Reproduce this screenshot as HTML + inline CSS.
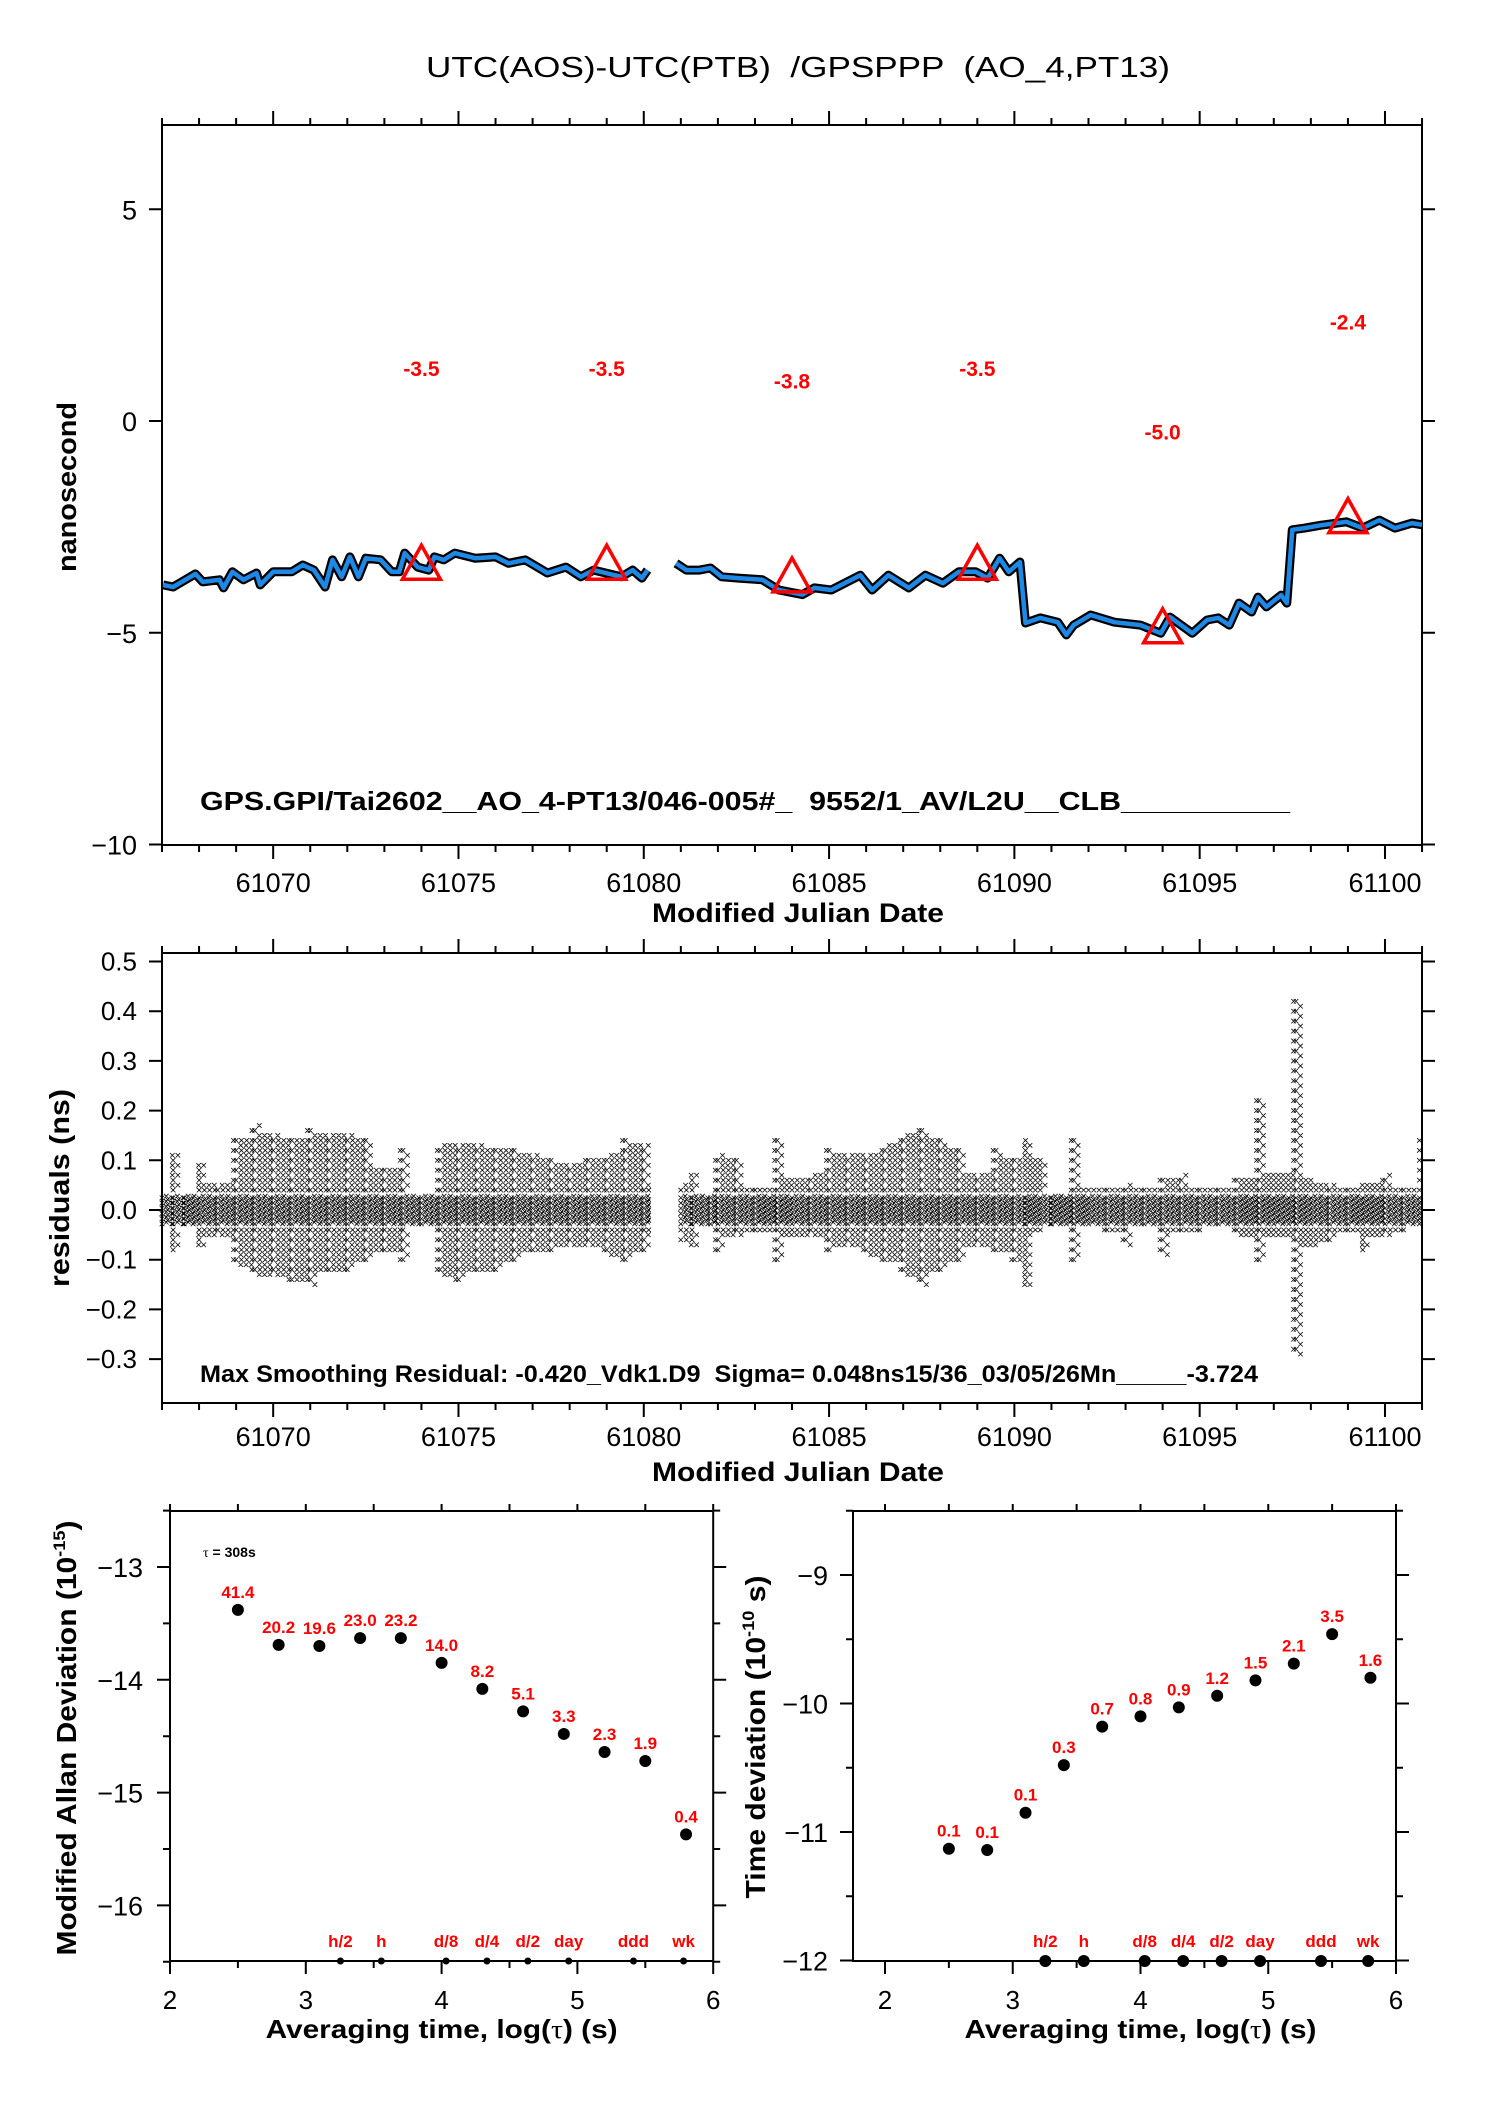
<!DOCTYPE html>
<html><head><meta charset="utf-8"><title>UTC(AOS)-UTC(PTB) GPSPPP</title>
<style>
html,body{margin:0;padding:0;background:#fff;}
svg{display:block;font-family:"Liberation Sans",Arial,sans-serif;}
svg text{white-space:pre;}
</style></head>
<body>
<svg id="chart" xmlns="http://www.w3.org/2000/svg" width="1488" height="2105" viewBox="0 0 1488 2105">
<rect x="0" y="0" width="1488" height="2105" fill="#fff"/>
<text x="798" y="77" font-size="29" text-anchor="middle" textLength="744" lengthAdjust="spacingAndGlyphs">UTC(AOS)-UTC(PTB)  /GPSPPP  (AO_4,PT13)</text>
<g id="topPanel"></g>
<g id="midPanel"></g>
<g id="blPanel"></g>
<g id="brPanel"></g>
</svg>
<script>
// ---------- data: top time series ----------
const seg1Mjd = [61067.03,61067.3,61067.9,61068.1,61068.55,61068.66,61068.9,61069.2,61069.55,61069.65,61070,61070.5,61070.8,61071.1,61071.4,61071.6,61071.85,61072.07,61072.3,61072.5,61072.9,61073.2,61073.4,61073.55,61073.9,61074.2,61074.35,61074.6,61074.9,61075.45,61076.0,61076.35,61076.8,61077.4,61077.9,61078.3,61078.65,61078.97,61079.4,61079.7,61079.95,61080.1];
const seg1Val = [-3.87,-3.92,-3.61,-3.80,-3.75,-3.94,-3.56,-3.75,-3.59,-3.87,-3.56,-3.56,-3.40,-3.52,-3.92,-3.28,-3.68,-3.21,-3.68,-3.24,-3.28,-3.56,-3.56,-3.12,-3.45,-3.52,-3.21,-3.28,-3.12,-3.24,-3.21,-3.36,-3.28,-3.59,-3.45,-3.68,-3.52,-3.59,-3.68,-3.52,-3.71,-3.52];
const seg2Mjd = [61080.87,61081.15,61081.5,61081.8,61082.1,61082.55,61083.2,61083.65,61084.28,61084.6,61085.06,61085.84,61086.16,61086.6,61087.15,61087.6,61088.07,61088.5,61088.95,61089.28,61089.6,61089.85,61090.15,61090.3,61090.7,61091.17,61091.4,61091.6,61092.06,61092.7,61093.4,61093.95,61094.2,61094.8,61095.2,61095.5,61095.8,61096.06,61096.4,61096.57,61096.8,61097.2,61097.35,61097.5,61097.83,61098.28,61098.96,61099.4,61099.85,61100.27,61100.73,61101.0];
const seg2Val = [-3.36,-3.52,-3.52,-3.47,-3.68,-3.71,-3.75,-3.99,-4.10,-3.94,-3.99,-3.64,-3.99,-3.64,-3.94,-3.64,-3.83,-3.56,-3.56,-3.71,-3.24,-3.56,-3.33,-4.77,-4.65,-4.75,-5.05,-4.82,-4.58,-4.75,-4.82,-5.01,-4.63,-5.01,-4.70,-4.65,-4.82,-4.30,-4.51,-4.16,-4.39,-4.11,-4.30,-2.57,-2.53,-2.46,-2.38,-2.53,-2.34,-2.53,-2.41,-2.45];
const triMjd = [61074,61079,61084,61089,61094,61099];
const triVal = [-3.5,-3.5,-3.8,-3.5,-5.0,-2.4];
const triLabel = ["-3.5","-3.5","-3.8","-3.5","-5.0","-2.4"];
const topYTicks = [5,0,-5,-10];
const topYTickLabels = ["5","0","\u22125","\u221210"];
const mjdTicks = [61070,61075,61080,61085,61090,61095,61100];
const mjdTickLabels = ["61070","61075","61080","61085","61090","61095","61100"];
// ---------- data: residual envelopes ----------
const resMjd = [61067.0,61067.3,61067.6,61068.0,61068.5,61069.0,61069.5,61070.0,61070.5,61071.0,61071.5,61072.0,61072.5,61073.0,61073.5,61074.0,61074.5,61075.0,61075.5,61076.0,61076.5,61077.0,61077.5,61078.0,61078.5,61079.0,61079.5,61080.0,61080.2,
 61081.0,61081.3,61081.8,61082.0,61082.5,61083.0,61083.6,61084.0,61084.5,61085.0,61085.5,61086.0,61086.5,61087.0,61087.5,61088.0,61088.5,61089.0,61089.5,61090.0,61090.3,61090.7,61091.0,61091.6,61092.0,61092.5,61093.0,61093.5,61094.0,61094.5,61095.0,61095.5,61096.0,61096.6,61097.0,61097.6,61098.0,61098.5,61099.0,61099.4,61100.0,61100.5,61101.0];
const resHi = [0.03,0.11,0.03,0.09,0.05,0.14,0.17,0.15,0.14,0.16,0.15,0.15,0.14,0.08,0.12,0.03,0.13,0.13,0.13,0.12,0.12,0.11,0.10,0.09,0.10,0.11,0.14,0.13,0.05,
 0.05,0.07,0.03,0.11,0.10,0.04,0.14,0.06,0.07,0.12,0.11,0.11,0.13,0.15,0.16,0.14,0.12,0.07,0.12,0.10,0.14,0.10,0.03,0.14,0.04,0.04,0.05,0.04,0.06,0.07,0.04,0.04,0.06,0.22,0.07,0.42,0.06,0.05,0.04,0.05,0.07,0.04,0.15];
const resLo = [-0.03,-0.08,-0.03,-0.07,-0.05,-0.11,-0.13,-0.13,-0.14,-0.15,-0.12,-0.12,-0.10,-0.08,-0.10,-0.03,-0.13,-0.14,-0.12,-0.12,-0.10,-0.08,-0.08,-0.07,-0.07,-0.09,-0.10,-0.08,-0.05,
 -0.06,-0.07,-0.03,-0.08,-0.05,-0.04,-0.10,-0.05,-0.05,-0.08,-0.07,-0.09,-0.10,-0.13,-0.15,-0.12,-0.10,-0.07,-0.08,-0.10,-0.15,-0.04,-0.03,-0.10,-0.03,-0.04,-0.07,-0.03,-0.09,-0.04,-0.04,-0.03,-0.05,-0.10,-0.05,-0.29,-0.07,-0.06,-0.04,-0.08,-0.05,-0.04,-0.03];
const resYTicks = [0.5,0.4,0.3,0.2,0.1,0.0,-0.1,-0.2,-0.3];
const resYTickLabels = ["0.5","0.4","0.3","0.2","0.1","0.0","\u22120.1","\u22120.2","\u22120.3"];
// ---------- data: stability ----------
const logTau = [2.5,2.8,3.1,3.4,3.7,4.0,4.3,4.6,4.9,5.2,5.5,5.8];
const madVal = [-13.38,-13.69,-13.70,-13.63,-13.63,-13.85,-14.08,-14.28,-14.48,-14.64,-14.72,-15.37];
const madLabel = ["41.4","20.2","19.6","23.0","23.2","14.0","8.2","5.1","3.3","2.3","1.9","0.4"];
const tdevVal = [-11.13,-11.14,-10.85,-10.48,-10.18,-10.10,-10.03,-9.94,-9.82,-9.69,-9.46,-9.80];
const tdevLabel = ["0.1","0.1","0.1","0.3","0.7","0.8","0.9","1.2","1.5","2.1","3.5","1.6"];
const markTau = [3.255,3.556,4.033,4.334,4.635,4.936,5.413,5.782];
const markLabel = ["h/2","h","d/8","d/4","d/2","day","ddd","wk"];
const madYTicks = [-13,-14,-15,-16];
const madYTickLabels = ["\u221213","\u221214","\u221215","\u221216"];
const tdevYTicks = [-9,-10,-11,-12];
const tdevYTickLabels = ["\u22129","\u221210","\u221211","\u221212"];
const logTicks = [2,3,4,5,6];
const logTickLabels = ["2","3","4","5","6"];

const NS="http://www.w3.org/2000/svg";
function mk(parent,tag,attrs,txt){const e=document.createElementNS(NS,tag);for(const k in attrs)e.setAttribute(k,attrs[k]);if(txt!==undefined)e.textContent=txt;parent.appendChild(e);return e;}

// ---------- scales ----------
const xM = m => 162 + (m-61067)*37.06;
const yTop = v => 421 - v*42.35;
const yRes = v => 1210 - v*497;
const xL = l => 170 + (l-2)*135.8;
const yL = v => 1567 + (-13 - v)*112.8;
const xR = l => 885 + (l-2)*127.75;
const yR = v => 1575 + (-9 - v)*128.5;

// ================= TOP PANEL =================
const topG=document.getElementById('topPanel');
(function(){
  const L=162,R=1422,T=125,B=845;
  let p=[];
  for(let m=61067;m<=61101;m++){const x=xM(m),maj=(m%5===0);const len=maj?14:7;p.push(`M${x} ${T}v${-len}M${x} ${B}v${len}`);}
  for(const v of topYTicks){const y=yTop(v);p.push(`M${L} ${y}h-13M${R} ${y}h13`);}
  const ax=mk(topG,'path',{d:p.join(''),stroke:'#000','stroke-width':2,fill:'none'});
  
  
  const fr=mk(topG,'rect',{x:L,y:T,width:R-L,height:B-T,fill:'none',stroke:'#000','stroke-width':2});
  
  
  topYTicks.forEach((v,i)=>{const t=mk(topG,'text',{x:137,y:yTop(v)+10,'font-size':27,'text-anchor':'end'},topYTickLabels[i]);
    
    });
  mjdTicks.forEach((m,i)=>{const t=mk(topG,'text',{x:xM(m),y:892,'font-size':27,'text-anchor':'middle'},mjdTickLabels[i]);
    
    });
  const xt=mk(topG,'text',{x:798,y:922,'font-size':27,'font-weight':'bold','text-anchor':'middle',textLength:292,lengthAdjust:'spacingAndGlyphs'},'Modified Julian Date');
  
  
  const yt=mk(topG,'text',{x:0,y:0,'font-size':27,'font-weight':'bold','text-anchor':'middle',transform:'translate(76,487) rotate(-90)',textLength:170,lengthAdjust:'spacingAndGlyphs'},'nanosecond');
  
  
  function pathOf(ms,vs){return ms.map((m,i)=>(i?'L':'M')+xM(m).toFixed(1)+' '+yTop(vs[i]).toFixed(1)).join('');}
  for(const pair of [[seg1Mjd,seg1Val],[seg2Mjd,seg2Val]]){
    const bk=mk(topG,'path',{d:pathOf(pair[0],pair[1]),stroke:'#000','stroke-width':9,fill:'none','stroke-linejoin':'round'});
    
    
  }
  for(const pair of [[seg1Mjd,seg1Val],[seg2Mjd,seg2Val]]){
    const bl=mk(topG,'path',{d:pathOf(pair[0],pair[1]),stroke:'#1e88e5','stroke-width':4.5,fill:'none','stroke-linejoin':'round'});
    
    
  }
  triMjd.forEach((m,i)=>{const x=xM(m),y=yTop(triVal[i]);
    const tr=mk(topG,'path',{d:`M${x-19} ${y+10}L${x+19} ${y+10}L${x} ${y-24}Z`,fill:'none',stroke:'#f00','stroke-width':3.5});
    
    
    const t=mk(topG,'text',{x:x,y:yTop(triVal[i]+4.73)+7,'font-size':21,'font-weight':'bold',fill:'#f00','text-anchor':'middle'},triLabel[i]);
    
    
  });
  const g=mk(topG,'text',{x:200,y:810,'font-size':26,'font-weight':'bold',textLength:1090,lengthAdjust:'spacingAndGlyphs'},'GPS.GPI/Tai2602__AO_4-PT13/046-005#_  9552/1_AV/L2U__CLB__________');
  
  
})();

// ================= MIDDLE PANEL =================
const midG=document.getElementById('midPanel');
(function(){
  const L=162,R=1422,T=953,B=1403;
  let p=[];
  for(let m=61067;m<=61101;m++){const x=xM(m),maj=(m%5===0);const len=maj?14:7;p.push(`M${x} ${T}v${-len}M${x} ${B}v${len}`);}
  for(const v of resYTicks){const y=yRes(v);p.push(`M${L} ${y}h-13M${R} ${y}h13`);}
  const ax=mk(midG,'path',{d:p.join(''),stroke:'#000','stroke-width':2,fill:'none'});
  
  
  let c=[];
  const cross=(x,y)=>c.push(`M${(x-2.3).toFixed(1)} ${(y-2.3).toFixed(1)}l4.6 4.6m0 -4.6l-4.6 4.6`);
  const core=[];
  for(let i=0;i<resMjd.length-1;i++){
    const m0=resMjd[i],m1=resMjd[i+1];
    if(m1-m0>0.6) continue;
    const n=Math.max(1,Math.round((m1-m0)/0.07));
    for(let k=0;k<n;k++){
      const f=k/n,m=m0+(m1-m0)*f;
      let hi,lo;
      const d0=m-m0,d1=m1-m;
      if(d0<=0.1){hi=resHi[i];lo=resLo[i];}
      else if(d1<=0.1){hi=resHi[i+1];lo=resLo[i+1];}
      else {hi=Math.min(resHi[i],resHi[i+1]);lo=Math.max(resLo[i],resLo[i+1]);}
      const x=xM(m);
      const ph=(k%3)*0.0035;
      for(let v=-0.028+ph;v<=0.03;v+=0.0105) cross(x+(k%2)*1.5,yRes(v));
      const step=0.02, off=(k%2)?step/2:0;
      for(let v=0.04+off;v<=hi+0.001;v+=step) cross(x+(k%2)*2,yRes(v));
      for(let v=-0.04-off;v>=lo-0.001;v-=step) cross(x+(k%2)*2,yRes(v));
    }
  }
  const cp=mk(midG,'path',{d:c.join(''),stroke:'#000','stroke-width':0.8,fill:'none'});
  
  
  const fr=mk(midG,'rect',{x:L,y:T,width:R-L,height:B-T,fill:'none',stroke:'#000','stroke-width':2});
  
  
  resYTicks.forEach((v,i)=>{const t=mk(midG,'text',{x:137,y:yRes(v)+9,'font-size':26,'text-anchor':'end'},resYTickLabels[i]);
    
    });
  mjdTicks.forEach((m,i)=>{const t=mk(midG,'text',{x:xM(m),y:1446,'font-size':27,'text-anchor':'middle'},mjdTickLabels[i]);
    
    });
  const xt=mk(midG,'text',{x:798,y:1481,'font-size':27,'font-weight':'bold','text-anchor':'middle',textLength:292,lengthAdjust:'spacingAndGlyphs'},'Modified Julian Date');
  
  
  const yt=mk(midG,'text',{x:0,y:0,'font-size':28,'font-weight':'bold','text-anchor':'middle',transform:'translate(69,1188) rotate(-90)',textLength:198,lengthAdjust:'spacingAndGlyphs'},'residuals (ns)');
  
  
  const s=mk(midG,'text',{x:200,y:1391-9,'font-size':24,'font-weight':'bold',textLength:1058,lengthAdjust:'spacingAndGlyphs'},'Max Smoothing Residual: -0.420_Vdk1.D9  Sigma= 0.048ns15/36_03/05/26Mn_____-3.724');
  
  
})();

// ================= BOTTOM PANELS =================
function stabPanel(g,xs,ys,L,R,T,B,yTicksArr,yTickLbl,vals,lbls,yMin,yMax,lblEnd,ttl,ttlX,ttlY,ttlLen,sup,suffix,dotR,markR,pfx){
  let p=[];
  for(let l=2;l<=6.001;l+=0.5){const x=xs(l);if(x<L-1)continue;p.push(`M${x} ${T}v-7M${x} ${B}v${(Math.abs(l-Math.round(l))<0.01)?13:7}`);}
  for(let v=yMax;v>=yMin-0.001;v-=0.5){const y=ys(v);const maj=Math.abs(v-Math.round(v))<0.01;p.push(`M${L} ${y}h${maj?-13:-7}M${R} ${y}h${maj?13:7}`);}
  const ax=mk(g,'path',{d:p.join(''),stroke:'#000','stroke-width':2,fill:'none'});
  
  
  const fr=mk(g,'rect',{x:L,y:T,width:R-L,height:B-T,fill:'none',stroke:'#000','stroke-width':2});
  
  
  yTicksArr.forEach((v,i)=>{const t=mk(g,'text',{x:lblEnd,y:ys(v)+10,'font-size':27,'text-anchor':'end'},yTickLbl[i]);
    
    });
  logTicks.forEach((l,i)=>{const t=mk(g,'text',{x:xs(l),y:2009,'font-size':26,'text-anchor':'middle'},logTickLabels[i]);
    
    });
  const xt=mk(g,'text',{x:(xs(2)+xs(6))/2,y:2038,'font-size':26,'font-weight':'bold','text-anchor':'middle',textLength:352,lengthAdjust:'spacingAndGlyphs'});
  
  
  mk(xt,'tspan',{},'Averaging time, log(');mk(xt,'tspan',{'font-family':'"Liberation Serif",serif','font-weight':'normal'},'\u03c4');mk(xt,'tspan',{},') (s)');
  const yt=mk(g,'text',{x:0,y:0,'font-size':28,'font-weight':'bold','text-anchor':'middle',transform:`translate(${ttlX},${ttlY}) rotate(-90)`,textLength:ttlLen,lengthAdjust:'spacingAndGlyphs'});
  
  
  mk(yt,'tspan',{},ttl+' (10');mk(yt,'tspan',{'font-size':17,dy:-11},sup);mk(yt,'tspan',{dy:11},suffix+')');
  logTau.forEach((l,i)=>{const x=xs(l),y=ys(vals[i]);
    const c=mk(g,'circle',{cx:x,cy:y,r:dotR,fill:'#000'});
    
    
    const t=mk(g,'text',{x:x,y:y-12,'font-size':17,'font-weight':'bold',fill:'#f00','text-anchor':'middle'},lbls[i]);
    
    
  });
  markTau.forEach((l,i)=>{const x=xs(l);
    const c=mk(g,'circle',{cx:x,cy:B,r:markR,fill:'#000'});
    
    
    const t=mk(g,'text',{x:x,y:B-14,'font-size':17,'font-weight':'bold',fill:'#f00','text-anchor':'middle'},markLabel[i]);
    
    
  });
}
const blG=document.getElementById('blPanel');
stabPanel(blG,xL,yL,170,xL(6),1511,1961,madYTicks,madYTickLabels,madVal,madLabel,-16.5,-12.5,143,'Modified Allan Deviation',76,1738,435,'-15','',6,3.5,'mdev');
const tau=mk(blG,'text',{x:203,y:1557,'font-size':14,'font-weight':'bold'});


mk(tau,'tspan',{'font-family':'"Liberation Serif",serif','font-weight':'normal'},'\u03c4');mk(tau,'tspan',{},' = 308s');
const brG=document.getElementById('brPanel');
stabPanel(brG,xR,yR,853,xR(6),1511,1961,tdevYTicks,tdevYTickLabels,tdevVal,tdevLabel,-12,-8.5,828,'Time deviation',765,1737,323,'-10',' s',6,6,'tdev');
</script>
</body></html>
